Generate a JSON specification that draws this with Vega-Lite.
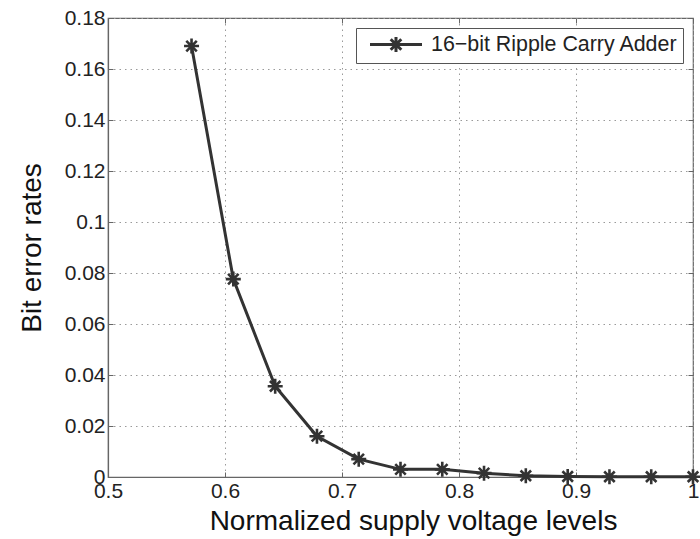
{
  "$schema": "https://vega.github.io/schema/vega-lite/v6.json",
  "width": 585,
  "height": 459,
  "autosize": "none",
  "padding": {"left": 108, "top": 18, "right": 7, "bottom": 62},
  "background": "white",
  "config": {
    "font": "Liberation Sans",
    "view": {"stroke": "#666", "strokeWidth": 1.2},
    "axis": {
      "labelFont": "Liberation Sans",
      "titleFont": "Liberation Sans",
      "labelFontSize": 21,
      "titleFontSize": 28,
      "titleFontWeight": "normal",
      "labelColor": "#222",
      "titleColor": "#111",
      "domainColor": "#666",
      "domainWidth": 1.2,
      "tickColor": "#666",
      "gridColor": "#9a9a9a",
      "gridDash": [1.5, 4],
      "gridWidth": 1
    }
  },
  "resolve": {"axis": {"x": "independent", "y": "independent"}},
  "data": {
    "values": [
      {"v": 0.5714, "ber": 0.169, "series": "16\u2212bit Ripple Carry Adder"},
      {"v": 0.6071, "ber": 0.0776, "series": "16\u2212bit Ripple Carry Adder"},
      {"v": 0.6429, "ber": 0.0356, "series": "16\u2212bit Ripple Carry Adder"},
      {"v": 0.6786, "ber": 0.0160, "series": "16\u2212bit Ripple Carry Adder"},
      {"v": 0.7143, "ber": 0.0070, "series": "16\u2212bit Ripple Carry Adder"},
      {"v": 0.75, "ber": 0.0030, "series": "16\u2212bit Ripple Carry Adder"},
      {"v": 0.7857, "ber": 0.0030, "series": "16\u2212bit Ripple Carry Adder"},
      {"v": 0.8214, "ber": 0.0015, "series": "16\u2212bit Ripple Carry Adder"},
      {"v": 0.8571, "ber": 0.0005, "series": "16\u2212bit Ripple Carry Adder"},
      {"v": 0.8929, "ber": 0.0002, "series": "16\u2212bit Ripple Carry Adder"},
      {"v": 0.9286, "ber": 0.0001, "series": "16\u2212bit Ripple Carry Adder"},
      {"v": 0.9643, "ber": 0.0001, "series": "16\u2212bit Ripple Carry Adder"},
      {"v": 1.0, "ber": 0.0001, "series": "16\u2212bit Ripple Carry Adder"}
    ]
  },
  "layer": [
    {
      "mark": {"type": "line", "strokeWidth": 3, "clip": false},
      "encoding": {
        "x": {
          "field": "v", "type": "quantitative",
          "scale": {"domain": [0.5, 1], "nice": false, "zero": false},
          "axis": {"title": "Normalized supply voltage levels", "titleX": 305, "values": [0.5, 0.6, 0.7, 0.8, 0.9, 1], "format": "~g", "grid": true, "tickSize": -5, "labelPadding": 8, "titlePadding": 6, "labelFlush": false, "labelOverlap": false}
        },
        "y": {
          "field": "ber", "type": "quantitative",
          "scale": {"domain": [0, 0.18], "nice": false},
          "axis": {"title": "Bit error rates", "values": [0, 0.02, 0.04, 0.06, 0.08, 0.1, 0.12, 0.14, 0.16, 0.18], "format": "~g", "grid": true, "tickSize": -5, "labelPadding": 8, "titlePadding": 18, "labelFlush": false, "labelOverlap": false}
        },
        "color": {
          "field": "series", "type": "nominal",
          "scale": {"range": ["#333333"]},
          "legend": {
            "title": null,
            "orient": "none",
            "legendX": 248,
            "legendY": 10,
            "strokeColor": "#555",
            "fillColor": "white",
            "padding": 5,
            "labelFont": "Liberation Sans",
            "labelFontSize": 21.4,
            "labelColor": "#222",
            "labelLimit": 0,
            "symbolType": "M-2.6,0L2.6,0M-0.75,0L0.75,0M0,-0.75L0,0.75M-0.53,-0.53L0.53,0.53M-0.53,0.53L0.53,-0.53",
            "symbolSize": 400,
            "symbolStrokeWidth": 3,
            "symbolFillColor": "transparent",
            "symbolOffset": 23.5,
            "labelOffset": 23.5
          }
        }
      }
    },
    {
      "mark": {"type": "point", "shape": "M-1,0L1,0M0,-1L0,1M-0.7,-0.7L0.7,0.7M-0.7,0.7L0.7,-0.7", "filled": false, "size": 225, "strokeWidth": 2.6, "opacity": 1, "clip": false},
      "encoding": {
        "x": {"field": "v", "type": "quantitative", "axis": {"orient": "top", "title": null, "labels": false, "grid": false, "domain": false, "tickSize": -5, "values": [0.5, 0.6, 0.7, 0.8, 0.9, 1]}},
        "y": {"field": "ber", "type": "quantitative", "axis": {"orient": "right", "title": null, "labels": false, "grid": false, "domain": false, "tickSize": -5, "values": [0, 0.02, 0.04, 0.06, 0.08, 0.1, 0.12, 0.14, 0.16, 0.18]}},
        "color": {"field": "series", "type": "nominal"}
      }
    }
  ]
}
